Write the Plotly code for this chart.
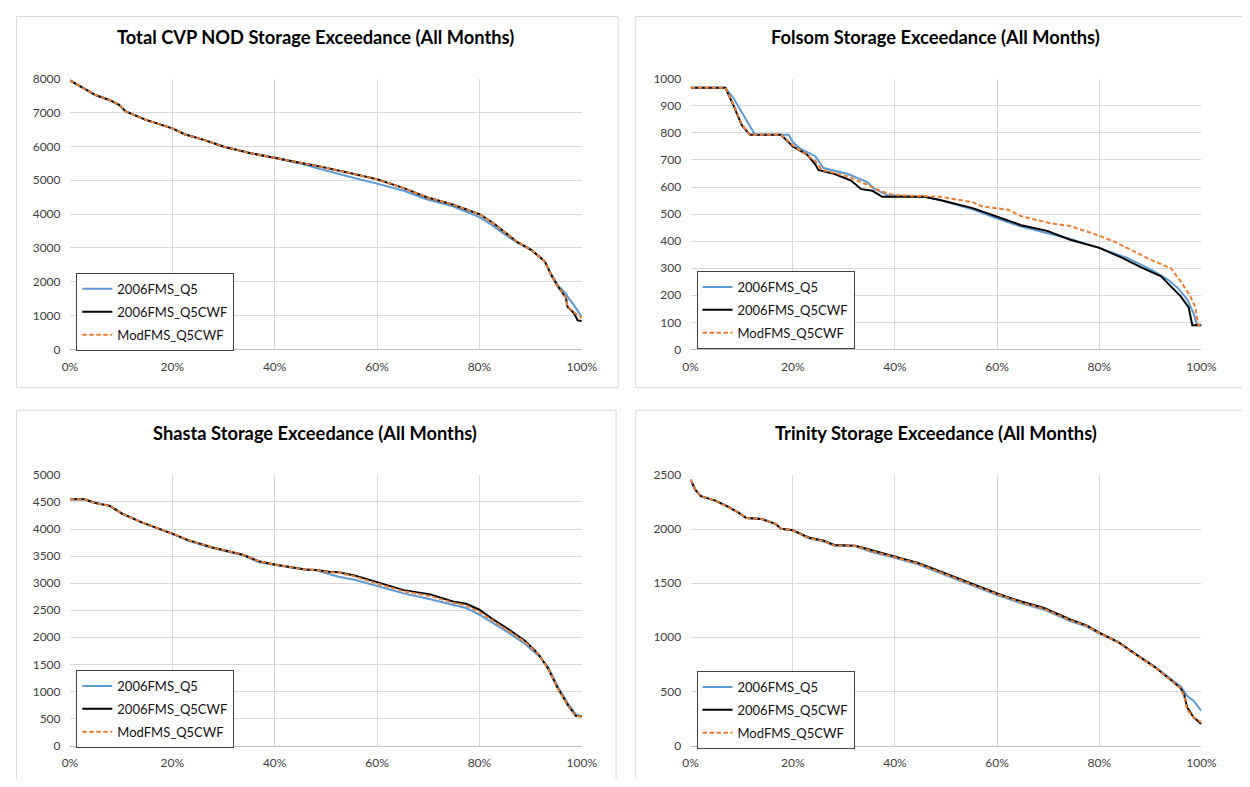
import plotly.graph_objects as go

W, H = 1250, 787          # window size of the reference picture
OFF = 8                   # default body margin of the page
FW, FH = W - 2 * OFF, H - 2 * OFF
FONT = "Lato"

series_names = ["2006FMS_Q5", "2006FMS_Q5CWF", "ModFMS_Q5CWF"]
series_colors = ["#5B9BD5", "#000000", "#ED7D31"]
series_dash = ["solid", "solid", "4.5px,2.5px"]

titles = ["Total CVP NOD Storage Exceedance (All Months)",
          "Folsom Storage Exceedance (All Months)",
          "Shasta Storage Exceedance (All Months)",
          "Trinity Storage Exceedance (All Months)"]

# ---------------- Total CVP NOD (exceedance %, storage TAF) ----------------
cvp_x = [0, 2, 5, 7.7, 9.6, 10.9, 14.7, 20, 22.4, 26.3, 30.1, 35.3, 40, 44.2, 49.3, 54.4, 60,
         65.2, 69.7, 74.8, 80, 82.5, 85.1, 87.6, 90.2, 92.8, 94, 95.3, 96.9, 97.2, 98.5, 99.2, 100]
cvp_q5 = [7950, 7780, 7520, 7373, 7228, 7035, 6793, 6533, 6359, 6185, 5992, 5799, 5664, 5520, 5310,
          5110, 4900, 4690, 4440, 4230, 3910, 3670, 3380, 3140, 2932, 2600, 2230, 1900, 1650, 1560,
          1300, 1150, 960]
cvp_q5cwf = [7950, 7780, 7520, 7373, 7228, 7035, 6793, 6533, 6359, 6185, 5992, 5799, 5664, 5539, 5390,
             5220, 5027, 4766, 4496, 4284, 3994, 3753, 3444, 3154, 2932, 2595, 2208, 1870, 1532, 1262,
             1069, 857, 838]
cvp_mod = [7950, 7780, 7520, 7373, 7228, 7035, 6793, 6533, 6359, 6185, 5992, 5799, 5664, 5539, 5390,
           5220, 5027, 4766, 4496, 4284, 3994, 3753, 3444, 3154, 2932, 2595, 2208, 1870, 1532, 1262,
           1100, 1000, 934]

# ---------------- Folsom ----------------
fol_q5_x = [0, 6.8, 8.4, 10, 11.6, 12.6, 19.2, 20, 21.3, 24.4, 26, 30.8, 34.6, 35.9, 38.5, 45.8,
            48.8, 55.2, 60, 64.7, 74.3, 80, 85.7, 90.2, 93.4, 95.3, 97.2, 98.5, 99.1, 100]
fol_q5 = [967, 967, 928, 877, 823, 793, 793, 766, 744, 714, 670, 648, 618, 594, 570, 564,
          552, 518, 483, 454, 408, 375, 336, 294, 258, 228, 185, 131, 89, 89]
fol_q5cwf_x = [0, 6.8, 8.4, 10, 11.6, 17.7, 20, 22.8, 24.4, 25, 28.2, 31.4, 33.4, 35.6, 37.5, 40,
               45.8, 48.8, 50.6, 55.2, 60, 64.7, 69.8, 74.3, 80, 84.5, 88.3, 92.1, 94, 95.9, 97.5,
               98.2, 100]
fol_q5cwf = [967, 967, 901, 829, 793, 793, 750, 720, 684, 663, 648, 624, 592, 586, 564, 564,
             564, 552, 543, 522, 490, 459, 438, 405, 375, 338, 302, 270, 233, 197, 155, 89, 89]
fol_mod_x = [0, 6.8, 8.4, 10, 11.6, 17.7, 20, 24.4, 25.7, 30.8, 34.6, 36.5, 39.7, 45.8, 48.8,
             55.2, 57.1, 62.2, 64.7, 70.4, 74.3, 80, 83.2, 87, 90.2, 94, 95.9, 97.8, 98.8, 99.4, 100]
fol_mod = [967, 967, 905, 832, 793, 793, 754, 696, 663, 639, 608, 590, 570, 566, 564,
           544, 528, 516, 492, 466, 456, 420, 396, 360, 330, 300, 252, 197, 155, 89, 89]

# ---------------- Shasta ----------------
sha_x = [0, 2.8, 5, 7.8, 10.1, 13.9, 20, 23.1, 27.7, 33.8, 36.9, 40, 46, 48.3, 50.6, 52.5, 55.6,
         60, 65.2, 70.4, 74.8, 77.4, 80, 82.5, 85.7, 88.9, 91.5, 93.4, 95.3, 97.2, 98.8, 100]
sha_q5 = [4550, 4548, 4480, 4428, 4289, 4127, 3910, 3780, 3655, 3515, 3390, 3335, 3250, 3235, 3170,
          3120, 3064, 2949, 2811, 2702, 2600, 2540, 2419, 2268, 2087, 1876, 1665, 1454, 1092, 790,
          579, 537]
sha_q5cwf = [4550, 4548, 4480, 4428, 4289, 4127, 3916, 3795, 3663, 3524, 3404, 3343, 3253, 3241, 3210,
             3203, 3140, 3022, 2871, 2793, 2660, 2618, 2509, 2340, 2147, 1936, 1695, 1423, 1062, 760,
             549, 537]
sha_mod = [4550, 4548, 4480, 4428, 4289, 4127, 3916, 3795, 3663, 3524, 3404, 3343, 3253, 3241, 3205,
           3195, 3125, 2992, 2850, 2762, 2640, 2590, 2467, 2320, 2117, 1915, 1690, 1423, 1062, 760,
           549, 537]

# ---------------- Trinity ----------------
tri_x = [0, 0.9, 2, 4.7, 7, 9.3, 10.9, 13.9, 16.6, 17.7, 20, 23.1, 26.1, 28.1, 32.3, 35.3, 39.9,
         44.5, 47.6, 52.6, 60, 64.7, 69.2, 74.3, 77.5, 80, 83.8, 87, 90.8, 94, 95.9, 96.6, 97.2,
         98.5, 100]
tri_q5 = [2455, 2364, 2304, 2265, 2214, 2154, 2102, 2093, 2048, 2003, 1988, 1915, 1885, 1845, 1840,
          1790, 1735, 1675, 1615, 1525, 1390, 1315, 1255, 1150, 1100, 1035, 950, 850, 730, 615, 545,
          500, 460, 410, 320]
tri_q5cwf = [2455, 2364, 2304, 2265, 2214, 2154, 2102, 2093, 2048, 2003, 1988, 1922, 1892, 1852, 1846,
             1807, 1747, 1687, 1632, 1541, 1405, 1330, 1270, 1164, 1110, 1043, 953, 847, 727, 606,
             531, 470, 350, 259, 199]
tri_mod = [2455, 2364, 2304, 2265, 2214, 2154, 2102, 2093, 2048, 2003, 1988, 1918, 1888, 1848, 1843,
           1798, 1740, 1680, 1622, 1533, 1398, 1322, 1262, 1157, 1105, 1040, 950, 845, 725, 605,
           528, 460, 330, 260, 214]

y_max = [8000, 1000, 5000, 2500]
y_step = [1000, 100, 500, 500]

panel_series = [
    [(cvp_x, cvp_q5), (cvp_x, cvp_q5cwf), (cvp_x, cvp_mod)],
    [(fol_q5_x, fol_q5), (fol_q5cwf_x, fol_q5cwf), (fol_mod_x, fol_mod)],
    [(sha_x, sha_q5), (sha_x, sha_q5cwf), (sha_x, sha_mod)],
    [(tri_x, tri_q5), (tri_x, tri_q5cwf), (tri_x, tri_mod)],
]

# layout geometry in window pixels (left, right, top, bottom) of plot areas
plot_px = [(63, 585, 72, 348), (696, 1217, 72, 348), (63, 585, 476, 752), (696, 1217, 476, 752)]
title_px = [(313, 29), (946, 29), (313, 433), (946, 433)]
legend_px = [(69.5, 270), (702, 268), (69.5, 675), (702, 676)]
box_px = [(8.5, 622, 8.5, 387), (640, 1262, 8.5, 387), (8.5, 620, 410, 800), (640, 1262, 410, 800)]


def px_x(p):
    return (p - OFF) / FW


def px_y(p):
    return 1 - (p - OFF) / FH


fig = go.Figure()
layout = dict(
    width=FW, height=FH, autosize=False,
    margin=dict(l=0, r=0, t=0, b=0),
    paper_bgcolor="white", plot_bgcolor="white",
    font=dict(family=FONT, size=12, color="#404040"),
    shapes=[], annotations=[],
)

for i in range(4):
    ax = "" if i == 0 else str(i + 1)
    leg = "legend" if i == 0 else "legend" + str(i + 1)
    for j in range(3):
        xs, ys = panel_series[i][j]
        fig.add_trace(go.Scatter(
            x=[v / 100 for v in xs], y=ys, mode="lines",
            name=series_names[j],
            line=dict(color=series_colors[j], width=2, dash=series_dash[j]),
            xaxis="x" + ax, yaxis="y" + ax,
            legend=leg, legendgroup=f"p{i}s{j}", showlegend=True,
        ))
    l, r, t, b = plot_px[i]
    layout["xaxis" + ax] = dict(
        domain=[px_x(l), px_x(r)], anchor="y" + ax, range=[0, 1],
        tickformat=".0%", dtick=0.2, tick0=0,
        showgrid=True, gridcolor="#d9d9d9", gridwidth=1,
        showline=True, linecolor="#bfbfbf", linewidth=1,
        ticks="outside", ticklen=6, tickcolor="rgba(0,0,0,0)",
        zeroline=False, fixedrange=True,
        tickfont=dict(family=FONT, size=12, color="#404040"),
    )
    layout["yaxis" + ax] = dict(
        domain=[px_y(b), px_y(t)], anchor="x" + ax, range=[0, y_max[i]],
        dtick=y_step[i], tick0=0,
        showgrid=True, gridcolor="#d9d9d9", gridwidth=1,
        showline=False, ticks="outside", ticklen=6, tickcolor="rgba(0,0,0,0)",
        zeroline=False, fixedrange=True,
        tickfont=dict(family=FONT, size=12, color="#404040"),
    )
    lx, ly = legend_px[i]
    layout[leg] = dict(
        x=px_x(lx), y=px_y(ly), xanchor="left", yanchor="top",
        bgcolor="white", bordercolor="#404040", borderwidth=1,
        font=dict(family=FONT, size=13, color="#111111"),
        tracegroupgap=3, itemwidth=30,
    )
    tx, ty = title_px[i]
    layout["annotations"].append(dict(
        x=px_x(tx), y=px_y(ty), xref="paper", yref="paper",
        text="<b>" + titles[i] + "</b>", showarrow=False,
        xanchor="center", yanchor="middle",
        font=dict(family=FONT, size=18.3, color="#000000"),
    ))
    bl, br, bt, bb = box_px[i]
    layout["shapes"].append(dict(
        type="rect", xref="paper", yref="paper",
        x0=px_x(bl), x1=px_x(br), y0=px_y(bb), y1=px_y(bt),
        line=dict(color="#d9d9d9", width=1), fillcolor="rgba(0,0,0,0)", layer="below",
    ))

fig.update_layout(**layout)
fig.write_html("out.html", config={"displayModeBar": False})
